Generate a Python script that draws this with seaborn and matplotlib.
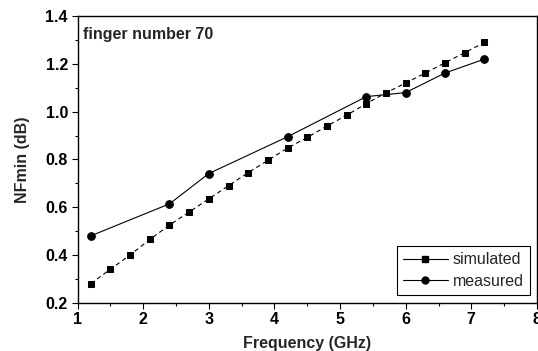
import matplotlib
matplotlib.use("Agg")
import matplotlib.pyplot as plt
import seaborn as sns
import pandas as pd
from matplotlib.lines import Line2D
from matplotlib.ticker import MultipleLocator

sim_freq = [1.2, 1.5, 1.8, 2.1, 2.4, 2.7, 3.0, 3.3, 3.6, 3.9, 4.2, 4.5, 4.8,
            5.1, 5.4, 5.7, 6.0, 6.3, 6.6, 6.9, 7.2]
sim_nf = [0.28, 0.34, 0.40, 0.465, 0.525, 0.58, 0.635, 0.69, 0.745, 0.796,
          0.848, 0.892, 0.94, 0.985, 1.034, 1.079, 1.12, 1.162, 1.205, 1.247, 1.29]
meas_freq = [1.2, 2.4, 3.0, 4.2, 5.4, 6.0, 6.6, 7.2]
meas_nf = [0.48, 0.614, 0.741, 0.895, 1.063, 1.08, 1.162, 1.22]

sns.set_style("ticks")
plt.rcParams['font.family'] = ['Liberation Sans', 'DejaVu Sans']

fig = plt.figure(figsize=(5.38, 3.51), dpi=100)
ax = fig.add_axes([0.1443, 0.1376, 0.8537, 0.8164])

sim_df = pd.DataFrame({"freq": sim_freq, "nf": sim_nf})
meas_df = pd.DataFrame({"freq": meas_freq, "nf": meas_nf})

sns.lineplot(data=sim_df, x="freq", y="nf", ax=ax, color="black", marker="s",
             markersize=5, linewidth=0.8, markeredgecolor="black",
             dashes=False, sort=False)
ax.lines[-1].set_linestyle((0, (4, 3)))
sns.lineplot(data=meas_df, x="freq", y="nf", ax=ax, color="black", marker="o",
             markersize=5.5, linewidth=0.8, markeredgecolor="black", sort=False)

ax.set_xlim(1, 8)
ax.set_ylim(0.2, 1.4)
ax.xaxis.set_major_locator(MultipleLocator(1))
ax.xaxis.set_minor_locator(MultipleLocator(0.5))
ax.yaxis.set_major_locator(MultipleLocator(0.2))
ax.yaxis.set_minor_locator(MultipleLocator(0.1))
ax.yaxis.set_major_formatter(matplotlib.ticker.FormatStrFormatter('%.1f'))
ax.tick_params(which='major', direction='out', length=4, width=0.8, colors='black',
               labelsize=11.5, pad=3)
ax.tick_params(which='minor', direction='out', length=2, width=0.8, colors='black')
for lab in ax.get_xticklabels() + ax.get_yticklabels():
    lab.set_fontweight('bold')

for s in ax.spines.values():
    s.set_visible(True)
    s.set_color('black')
    s.set_linewidth(1.0)

ax.set_xlabel("Frequency (GHz)", fontsize=11.5, fontweight='bold', labelpad=6)
ax.set_ylabel("NFmin (dB)", fontsize=11.5, fontweight='bold', labelpad=11)

ax.text(0.011, 0.935, "finger number 70", transform=ax.transAxes, fontsize=11.5,
        fontweight='bold', va='center', ha='left')

handles = [Line2D([], [], color='black', marker='s', markersize=5, linewidth=0.8),
           Line2D([], [], color='black', marker='o', markersize=5, linewidth=0.8)]
leg = ax.legend(handles, ["simulated", "measured"], loc='lower right',
                bbox_to_anchor=(0.985, 0.027), borderaxespad=0, fontsize=11.5,
                frameon=True, fancybox=False, edgecolor='black', framealpha=1,
                handlelength=2.8, handletextpad=0.3, borderpad=0.4,
                labelspacing=0.4)
leg.get_frame().set_linewidth(0.8)

fig.savefig("out.png", dpi=100)
